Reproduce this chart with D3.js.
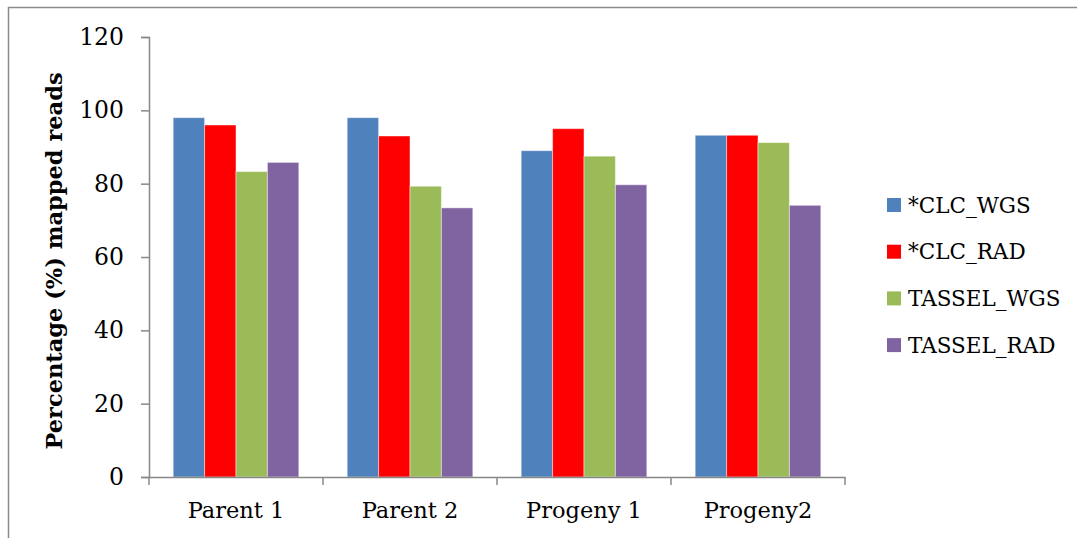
<!DOCTYPE html>
<html>
<head>
<meta charset="utf-8">
<script src="https://cdn.jsdelivr.net/npm/d3@7/dist/d3.min.js"></script>
<style>
html,body{margin:0;padding:0;background:#fff;}
svg{display:block;}
text{font-family:"DejaVu Serif",serif;fill:#000;}
</style>
</head>
<body>
<svg id="chart" width="1077" height="538"></svg>
<script>
const categories = ["Parent 1", "Parent 2", "Progeny 1", "Progeny2"];
const seriesNames = ["*CLC_WGS", "*CLC_RAD", "TASSEL_WGS", "TASSEL_RAD"];
const clcWgs = [98, 98, 89, 93.2];
const clcRad = [96, 93, 95, 93.2];
const tasselWgs = [83.3, 79.3, 87.5, 91.2];
const tasselRad = [85.8, 73.4, 79.7, 74.1];
const yTicks = [0, 20, 40, 60, 80, 100, 120];
const colors = ["#4F81BD", "#FF0000", "#9BBB59", "#8064A2"];
const seriesValues = [clcWgs, clcRad, tasselWgs, tasselRad];

(function () {
const svg = d3.select("#chart");

// outer frame
svg.append("rect").attr("x", 8.5).attr("y", 7.5).attr("width", 1200).attr("height", 600)
  .attr("fill", "none").attr("stroke", "#8a8a8a").attr("stroke-width", 1.5);

const pLeft = 149, pRight = 845, pTop = 37, pBottom = 477;

const x0 = d3.scaleBand().domain(categories).range([pLeft, pRight]).padding(0);
const bw = x0.bandwidth();
const x1 = d3.scaleBand().domain(seriesNames).range([bw * 0.139, bw * 0.861]).padding(0);
const y = d3.scaleLinear().domain([0, 120]).range([pBottom, pTop]);

// bars
const groups = svg.append("g").selectAll("g").data(categories).join("g")
  .attr("transform", d => `translate(${x0(d)},0)`);
groups.selectAll("rect")
  .data((c, i) => seriesNames.map((s, j) => ({s, j, v: seriesValues[j][i]})))
  .join("rect")
  .attr("x", d => x1(d.s))
  .attr("width", x1.bandwidth())
  .attr("y", d => y(d.v))
  .attr("height", d => y(0) - y(d.v))
  .attr("fill", d => colors[d.j])
  .attr("stroke", "rgba(255,255,255,0.45)")
  .attr("stroke-width", 1);

// y axis
const yAxis = svg.append("g").attr("transform", `translate(${pLeft},0)`)
  .call(d3.axisLeft(y).tickValues(yTicks).tickSize(8).tickPadding(17).tickFormat(d3.format("d")));
yAxis.selectAll("line, path").attr("stroke", "#888").attr("stroke-width", 1.5);
yAxis.selectAll("text").attr("font-size", 23.5).attr("font-family", "DejaVu Serif").attr("fill", "#000");

// x axis
const xAxis = svg.append("g").attr("transform", `translate(0,${pBottom})`)
  .call(d3.axisBottom(x0).tickSize(0).tickPadding(25));
xAxis.select("path").attr("stroke", "#888").attr("stroke-width", 1.5);
xAxis.selectAll("text").attr("font-size", 22.5).attr("font-family", "DejaVu Serif").attr("fill", "#000");
// category boundary ticks
const bounds = categories.map(c => x0(c)).concat([pRight]);
svg.append("g").selectAll("line").data(bounds).join("line")
  .attr("x1", d => d).attr("x2", d => d)
  .attr("y1", pBottom).attr("y2", pBottom + 8)
  .attr("stroke", "#888").attr("stroke-width", 1.5);

// y title
svg.append("text")
  .attr("transform", `translate(62,${(pTop + pBottom) / 2 + 4}) rotate(-90)`)
  .attr("text-anchor", "middle")
  .attr("font-size", 22.5).attr("font-weight", "bold")
  .text("Percentage (%) mapped reads");

// legend
const lg = svg.append("g").selectAll("g").data(seriesNames).join("g")
  .attr("transform", (d, i) => `translate(887,${205 + i * 46.7})`);
lg.append("rect").attr("x", 0).attr("y", -7).attr("width", 14).attr("height", 14)
  .attr("fill", (d, i) => colors[i]);
lg.append("text").attr("x", 21).attr("y", 0).attr("dy", "0.36em")
  .attr("font-size", 21.5).text(d => d);
})();
</script>
</body>
</html>
